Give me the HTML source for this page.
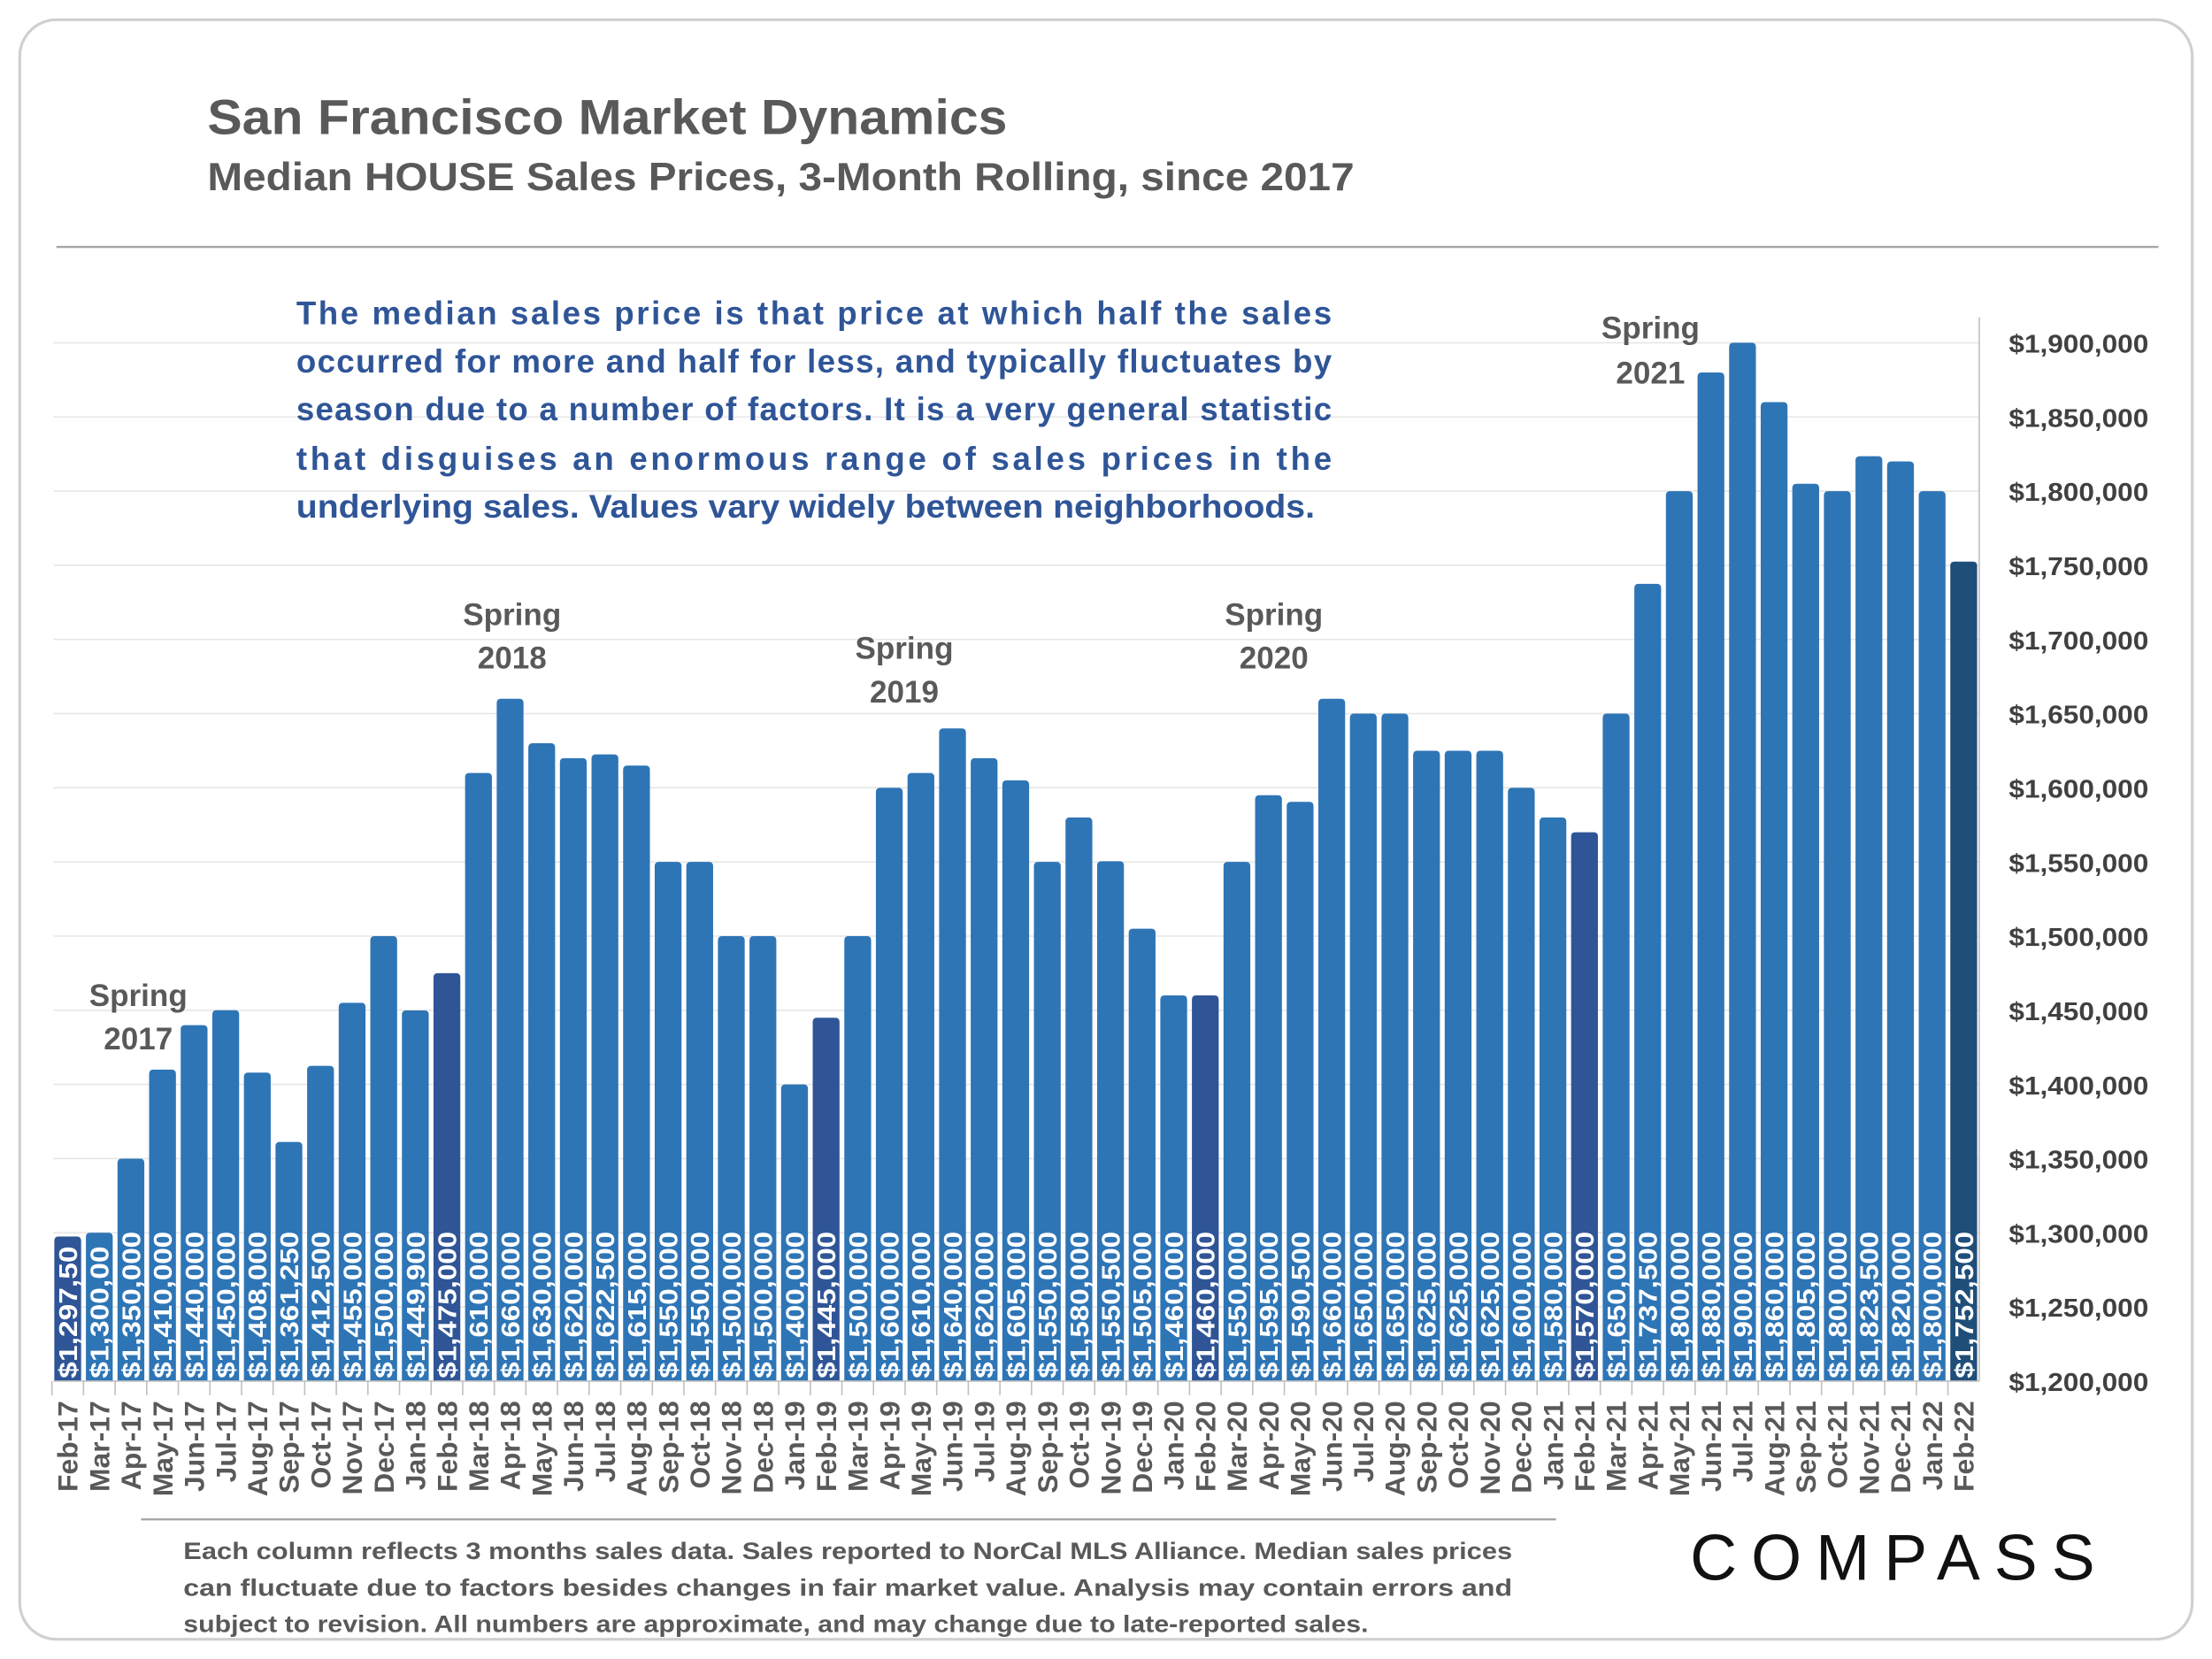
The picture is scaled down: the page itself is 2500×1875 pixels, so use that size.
<!DOCTYPE html>
<html><head><meta charset="utf-8"><style>
html,body{margin:0;padding:0;background:#fff}
svg{display:block}
text{font-family:"Liberation Sans",sans-serif;font-weight:bold}
</style></head><body>
<svg id="chart" width="2500" height="1875" viewBox="0 0 1568 1176" xmlns="http://www.w3.org/2000/svg">
<rect x="14" y="14" width="1540" height="1148" rx="26" fill="#fff" stroke="#d0d0d0" stroke-width="2"/>
<text x="147" y="95" font-size="35" fill="#595959" textLength="567" lengthAdjust="spacingAndGlyphs">San Francisco Market Dynamics</text>
<text x="147" y="135" font-size="28" fill="#595959" textLength="813" lengthAdjust="spacingAndGlyphs">Median HOUSE Sales Prices, 3-Month Rolling, since 2017</text>
<line x1="40" y1="175" x2="1530" y2="175" stroke="#a6a6a6" stroke-width="1.5"/>
<g id="grid"></g>
<g id="bars"></g>
<g id="yaxis"></g>
<g id="xaxis"></g>
<g font-size="23" fill="#2F5597">
<text x="210" y="230" textLength="734" lengthAdjust="spacing">The median sales price is that price at which half the sales</text>
<text x="210" y="264" textLength="734" lengthAdjust="spacing">occurred for more and half for less, and typically fluctuates by</text>
<text x="210" y="298" textLength="734" lengthAdjust="spacing">season due to a number of factors. It is a very general statistic</text>
<text x="210" y="333" textLength="734" lengthAdjust="spacing">that disguises an enormous range of sales prices in the</text>
<text x="210" y="367" textLength="722" lengthAdjust="spacingAndGlyphs">underlying sales. Values vary widely between neighborhoods.</text>
</g>
<g font-size="22" fill="#595959" text-anchor="middle">
<text x="98" y="713">Spring</text><text x="98" y="744">2017</text>
<text x="363" y="443">Spring</text><text x="363" y="474">2018</text>
<text x="641" y="467">Spring</text><text x="641" y="498">2019</text>
<text x="903" y="443">Spring</text><text x="903" y="474">2020</text>
<text x="1170" y="240">Spring</text><text x="1170" y="272">2021</text>
</g>
<line x1="100" y1="1077" x2="1103" y2="1077" stroke="#a6a6a6" stroke-width="1.5"/>
<g font-size="17" fill="#595959">
<text x="130" y="1105" textLength="942" lengthAdjust="spacingAndGlyphs">Each column reflects 3 months sales data. Sales reported to NorCal MLS Alliance. Median sales prices</text>
<text x="130" y="1131" textLength="942" lengthAdjust="spacingAndGlyphs">can fluctuate due to factors besides changes in fair market value. Analysis may contain errors and</text>
<text x="130" y="1157" textLength="840" lengthAdjust="spacingAndGlyphs">subject to revision. All numbers are approximate, and may change due to late-reported sales.</text>
</g>
<text x="1198" y="1120" font-size="46" fill="#111" textLength="287" lengthAdjust="spacing" style="font-weight:normal">COMPASS</text>
</svg>
<script>
const categories = ["Feb-17","Mar-17","Apr-17","May-17","Jun-17","Jul-17","Aug-17","Sep-17","Oct-17","Nov-17","Dec-17","Jan-18","Feb-18","Mar-18","Apr-18","May-18","Jun-18","Jul-18","Aug-18","Sep-18","Oct-18","Nov-18","Dec-18","Jan-19","Feb-19","Mar-19","Apr-19","May-19","Jun-19","Jul-19","Aug-19","Sep-19","Oct-19","Nov-19","Dec-19","Jan-20","Feb-20","Mar-20","Apr-20","May-20","Jun-20","Jul-20","Aug-20","Sep-20","Oct-20","Nov-20","Dec-20","Jan-21","Feb-21","Mar-21","Apr-21","May-21","Jun-21","Jul-21","Aug-21","Sep-21","Oct-21","Nov-21","Dec-21","Jan-22","Feb-22"];
const values = [1297500,1300000,1350000,1410000,1440000,1450000,1408000,1361250,1412500,1455000,1500000,1449900,1475000,1610000,1660000,1630000,1620000,1622500,1615000,1550000,1550000,1500000,1500000,1400000,1445000,1500000,1600000,1610000,1640000,1620000,1605000,1550000,1580000,1550500,1505000,1460000,1460000,1550000,1595000,1590500,1660000,1650000,1650000,1625000,1625000,1625000,1600000,1580000,1570000,1650000,1737500,1800000,1880000,1900000,1860000,1805000,1800000,1823500,1820000,1800000,1752500];
const valueLabels = ["$1,297,50","$1,300,00","$1,350,000","$1,410,000","$1,440,000","$1,450,000","$1,408,000","$1,361,250","$1,412,500","$1,455,000","$1,500,000","$1,449,900","$1,475,000","$1,610,000","$1,660,000","$1,630,000","$1,620,000","$1,622,500","$1,615,000","$1,550,000","$1,550,000","$1,500,000","$1,500,000","$1,400,000","$1,445,000","$1,500,000","$1,600,000","$1,610,000","$1,640,000","$1,620,000","$1,605,000","$1,550,000","$1,580,000","$1,550,500","$1,505,000","$1,460,000","$1,460,000","$1,550,000","$1,595,000","$1,590,500","$1,660,000","$1,650,000","$1,650,000","$1,625,000","$1,625,000","$1,625,000","$1,600,000","$1,580,000","$1,570,000","$1,650,000","$1,737,500","$1,800,000","$1,880,000","$1,900,000","$1,860,000","$1,805,000","$1,800,000","$1,823,500","$1,820,000","$1,800,000","$1,752,500"];
const yTicks = [1200000,1250000,1300000,1350000,1400000,1450000,1500000,1550000,1600000,1650000,1700000,1750000,1800000,1850000,1900000];
const NS="http://www.w3.org/2000/svg";
const yMin=1200000,yMax=1900000,yBase=979,yTop=243;
function y(v){return yBase-(v-yMin)/(yMax-yMin)*(yBase-yTop);}
const x0=48,step=(1392-48)/(categories.length-1);
function x(i){return x0+i*step;}
function mk(tag,attrs,parent){const e=document.createElementNS(NS,tag);for(const k in attrs)e.setAttribute(k,attrs[k]);parent.appendChild(e);return e;}
const grid=document.getElementById('grid'),bars=document.getElementById('bars'),ya=document.getElementById('yaxis'),xa=document.getElementById('xaxis');
yTicks.forEach(t=>{
 if(t>yMin){const l=mk('line',{x1:38,x2:1403,y1:y(t),y2:y(t),stroke:'#e6e6e6','stroke-width':1},grid);
 
 }
 const tx=mk('text',{x:1424,y:y(t)+7,'font-size':18,fill:'#404040',textLength:99,lengthAdjust:'spacingAndGlyphs'},ya);
 tx.textContent='$'+t.toLocaleString('en-US');
 
 
});
mk('line',{x1:1403,x2:1403,y1:225,y2:yBase,stroke:'#bfbfbf','stroke-width':1},ya);
const bw=19;
values.forEach((v,i)=>{
 const cat=categories[i];
 let fill='#2E75B6';
 if(cat.startsWith('Feb')) fill = (cat==='Feb-22')?'#1F4E79':'#2F5597';
 const top=y(v);
 const r=mk('path',{d:`M${x(i)-bw/2},${yBase} V${top+3} Q${x(i)-bw/2},${top} ${x(i)-bw/2+3},${top} H${x(i)+bw/2-3} Q${x(i)+bw/2},${top} ${x(i)+bw/2},${top+3} V${yBase} Z`,fill:fill},bars);
 
 
 const lab=valueLabels[i];
 const lb=mk('text',{x:0,y:0,'font-size':18,fill:'#fff',textLength:(lab.length*10.4).toFixed(1),lengthAdjust:'spacingAndGlyphs',transform:`translate(${x(i)+6.5},${yBase-2}) rotate(-90)`},bars);
 lb.textContent=lab;
 
 
 const xl=mk('text',{x:0,y:0,'font-size':20,fill:'#595959','text-anchor':'end',transform:`translate(${x(i)+7},${yBase+14}) rotate(-90)`},xa);
 xl.textContent=cat;
 
 
 mk('line',{x1:x(i)-step/2,x2:x(i)-step/2,y1:yBase,y2:yBase+10,stroke:'#bfbfbf'},xa);
});
mk('line',{x1:38,x2:1403,y1:yBase,y2:yBase,stroke:'#bfbfbf','stroke-width':1},xa);
</script>
</body></html>
